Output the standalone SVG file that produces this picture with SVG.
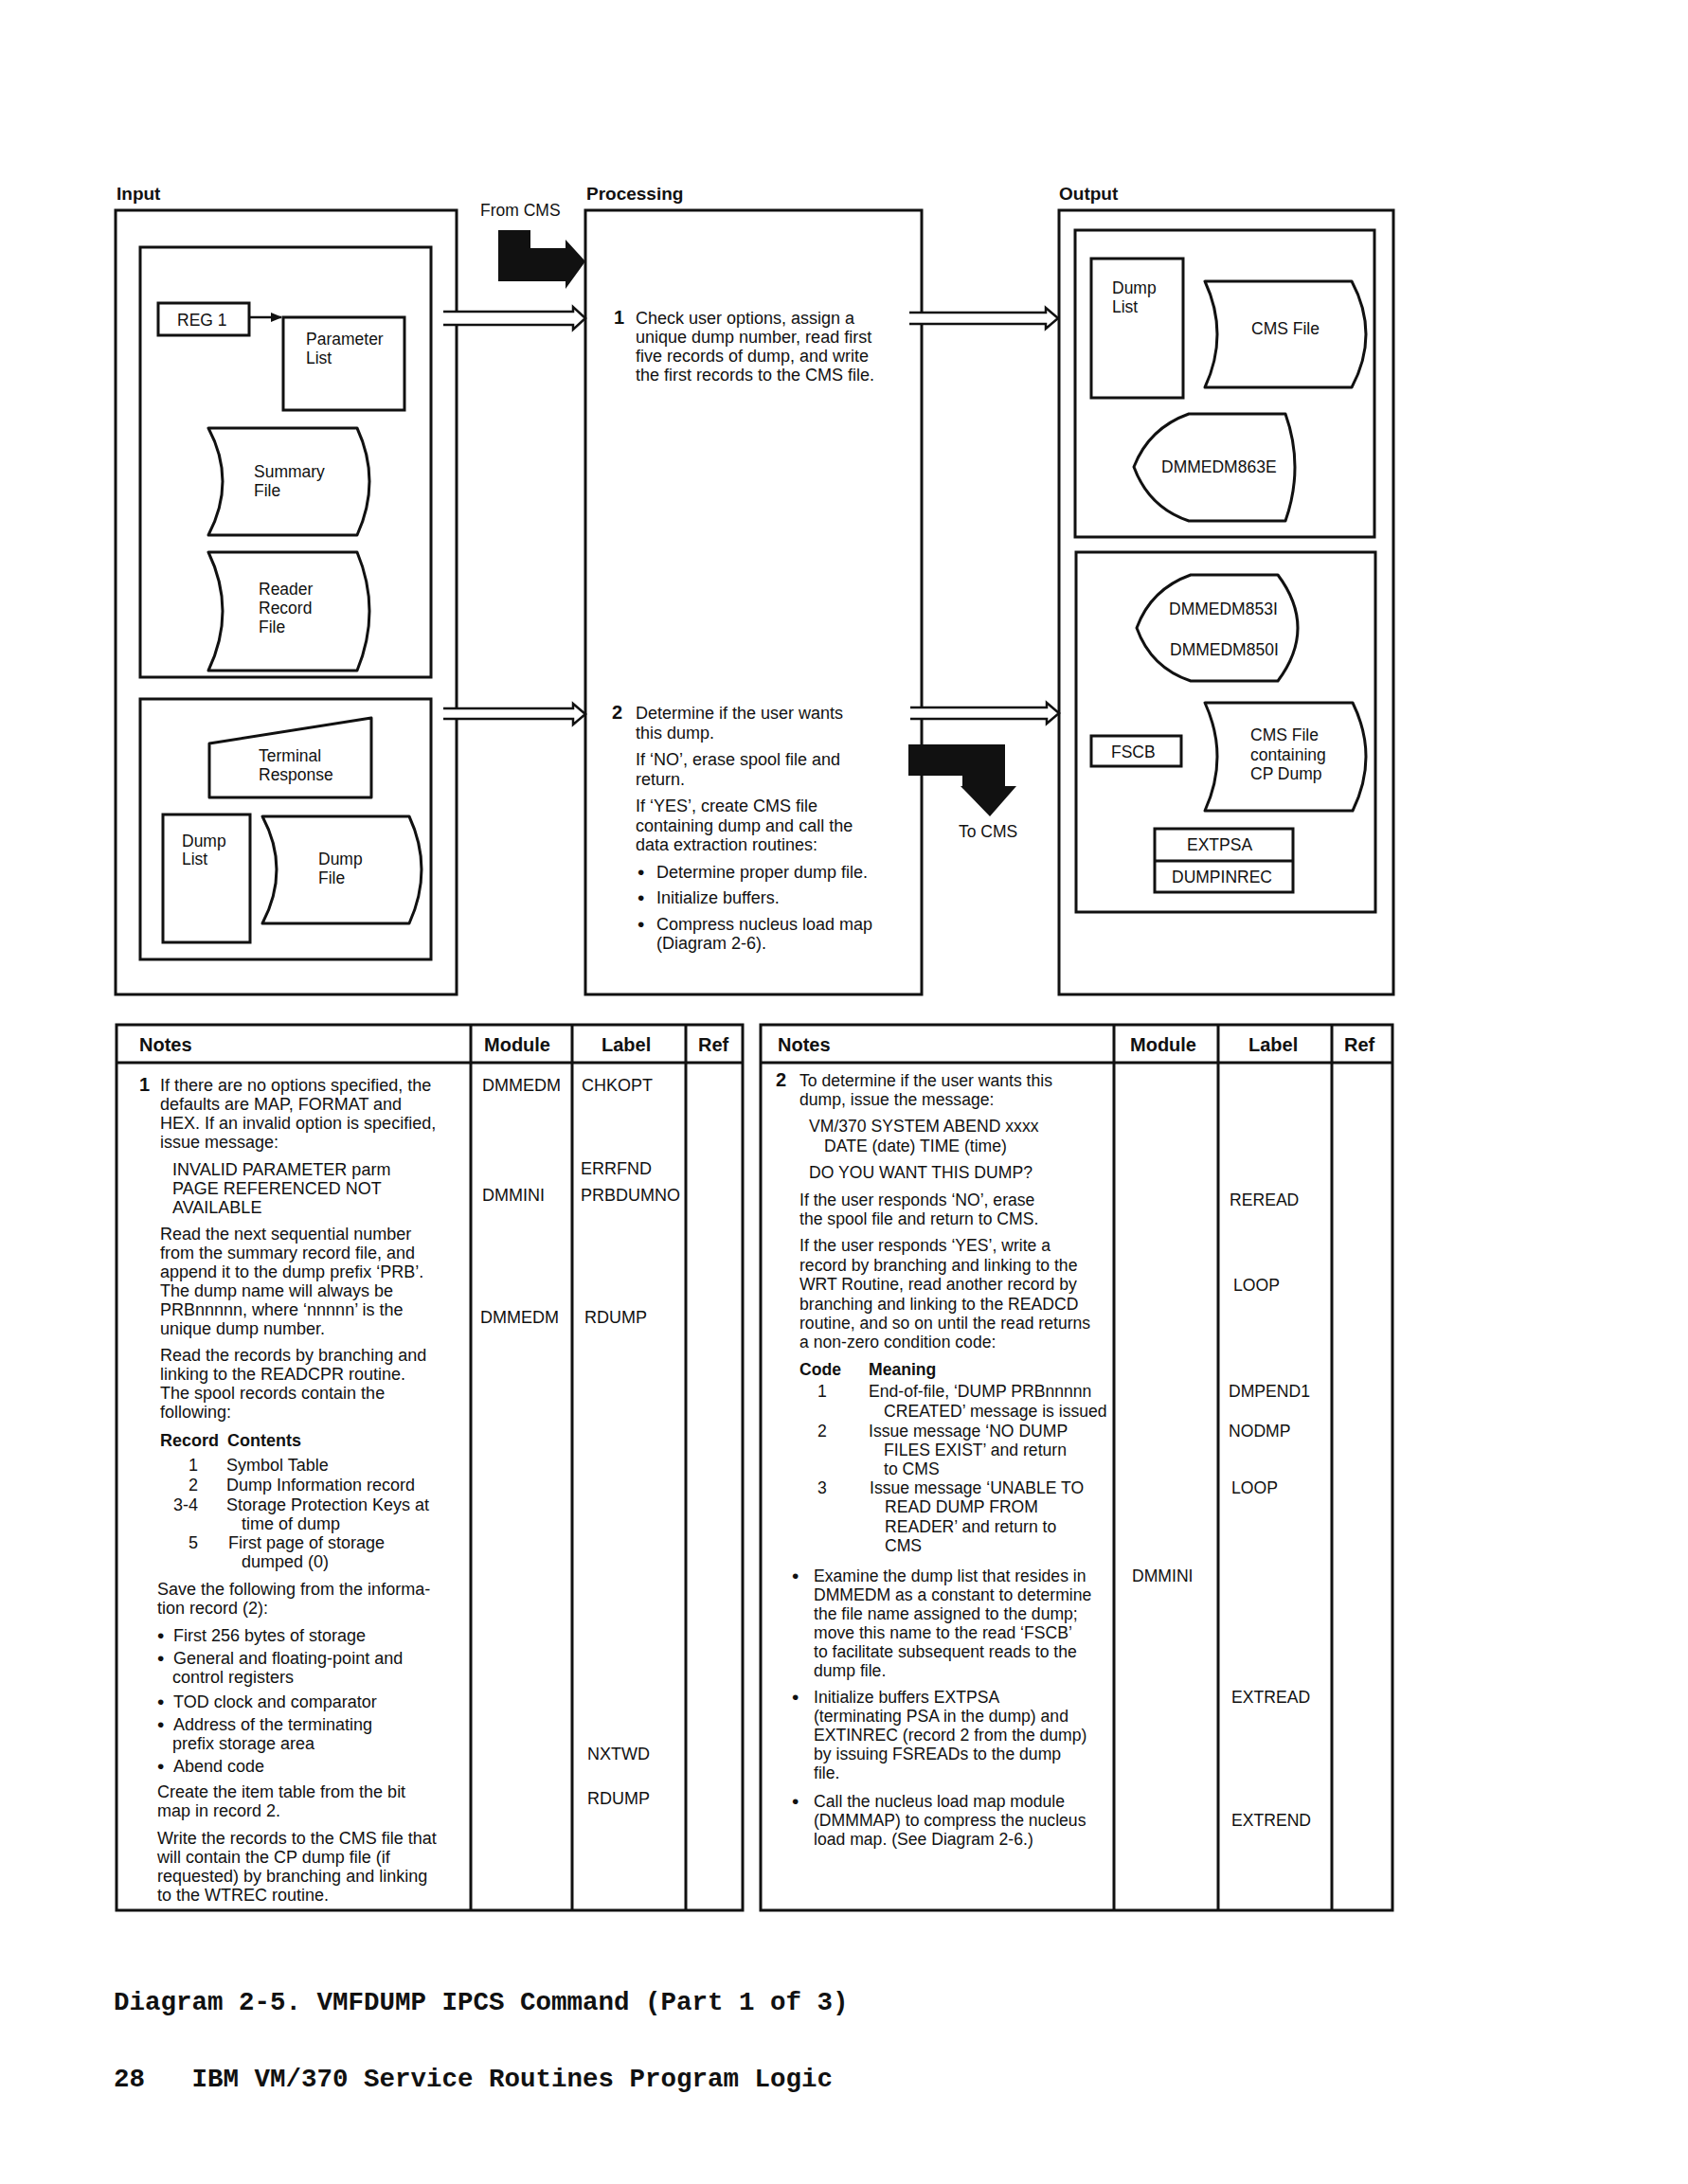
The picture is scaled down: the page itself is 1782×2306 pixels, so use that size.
<svg xmlns="http://www.w3.org/2000/svg" width="1782" height="2306" viewBox="0 0 1782 2306">
<style>
text{font-family:"Liberation Sans",Arial,sans-serif;fill:#111}
.t{font-size:17.5px}
.p{font-size:18px}
.n{font-size:18px}
.r{font-size:17.6px}
.bu{font-size:21px}
.h{font-size:19px;font-weight:bold}
.th{font-size:20px;font-weight:bold}
.num{font-size:20px;font-weight:bold}
.b{font-weight:bold}
.box{fill:none;stroke:#111;stroke-width:3}
.shape{fill:#fff;stroke:#111;stroke-width:3;stroke-linejoin:round}
.dbl{fill:#fff;stroke:#111;stroke-width:2.5;stroke-linejoin:miter}
.blk{fill:#111;stroke:none}
.ln{stroke:#111;stroke-width:3;fill:none}
.foot{font-family:"Liberation Mono","Courier New",monospace;font-size:27.5px;font-weight:bold;fill:#111}
</style>
<defs>
<marker id="ah" markerWidth="12" markerHeight="10" refX="11" refY="5" orient="auto" markerUnits="userSpaceOnUse">
<path d="M0,0 L12,5 L0,10 Z" fill="#111"/>
</marker>
</defs>
<rect width="1782" height="2306" fill="#fff"/>

<!-- section labels -->
<text class="h" x="123" y="211">Input</text>
<text class="h" x="619" y="211">Processing</text>
<text class="h" x="1118" y="211">Output</text>

<!-- Input -->
<g id="input-box">
<rect class="box" x="122" y="222" width="360" height="828"/>
</g>
<g id="input-group1">
<rect class="box" x="148" y="261" width="307" height="454"/>
</g>
<g id="reg1">
<rect class="box" x="167" y="320" width="96" height="34"/>
<text class="t" x="187" y="344">REG 1</text>
</g>
<g id="parameter-list">
<rect class="box" x="299" y="335" width="128" height="98"/>
<text class="t" x="323" y="364">Parameter</text>
<text class="t" x="323" y="384">List</text>
</g>
<g id="summary-file">
<path class="shape" d="M220,452 H377 Q403,508 377,565 H220 Q250,508 220,452 Z"/>
<text class="t" x="268" y="504">Summary</text>
<text class="t" x="268" y="524">File</text>
</g>
<g id="reader-record-file">
<path class="shape" d="M220,583 H377 Q403,645 377,708 H220 Q250,645 220,583 Z"/>
<text class="t" x="273" y="628">Reader</text>
<text class="t" x="273" y="648">Record</text>
<text class="t" x="273" y="668">File</text>
</g>
<g id="input-group2">
<rect class="box" x="148" y="738" width="307" height="275"/>
</g>
<g id="terminal-response">
<path class="shape" d="M221,785 L392,758 L392,842 L221,842 Z"/>
<text class="t" x="273" y="804">Terminal</text>
<text class="t" x="273" y="824">Response</text>
</g>
<g id="dump-list-in">
<rect class="box" x="172" y="860" width="92" height="135"/>
<text class="t" x="192" y="894">Dump</text>
<text class="t" x="192" y="913">List</text>
</g>
<g id="dump-file">
<path class="shape" d="M277,862 H432 Q458,918 432,975 H277 Q307,918 277,862 Z"/>
<text class="t" x="336" y="913">Dump</text>
<text class="t" x="336" y="933">File</text>
</g>

<!-- Processing -->
<g id="processing-box">
<rect class="box" x="618" y="222" width="355" height="828"/>
</g>
<g id="step1">
<text class="num" x="648" y="342">1</text>
<text class="p" x="671" y="342">Check user options, assign a</text>
<text class="p" x="671" y="362">unique dump number, read first</text>
<text class="p" x="671" y="382">five records of dump, and write</text>
<text class="p" x="671" y="402">the first records to the CMS file.</text>
</g>
<g id="step2">
<text class="num" x="646" y="759">2</text>
<text class="p" x="671" y="759">Determine if the user wants</text>
<text class="p" x="671" y="780">this dump.</text>
<text class="p" x="671" y="808">If ‘NO’, erase spool file and</text>
<text class="p" x="671" y="829">return.</text>
<text class="p" x="671" y="857">If ‘YES’, create CMS file</text>
<text class="p" x="671" y="878">containing dump and call the</text>
<text class="p" x="671" y="898">data extraction routines:</text>
<text class="bu" x="673" y="928">•</text><text class="p" x="693" y="927">Determine proper dump file.</text>
<text class="bu" x="673" y="955">•</text><text class="p" x="693" y="954">Initialize buffers.</text>
<text class="bu" x="673" y="983">•</text><text class="p" x="693" y="982">Compress nucleus load map</text>
<text class="p" x="693" y="1002">(Diagram 2-6).</text>
</g>

<!-- Output -->
<g id="output-box">
<rect class="box" x="1118" y="222" width="353" height="828"/>
</g>
<g id="output-group1">
<rect class="box" x="1135" y="243" width="316" height="324"/>
</g>
<g id="dump-list-out">
<rect class="box" x="1152" y="273" width="97" height="147"/>
<text class="t" x="1174" y="310">Dump</text>
<text class="t" x="1174" y="330">List</text>
</g>
<g id="cms-file">
<path class="shape" d="M1272,297 H1427 Q1457,353 1427,409 H1272 Q1298,353 1272,297 Z"/>
<text class="t" x="1321" y="353">CMS File</text>
</g>
<g id="msg-863e">
<path class="shape" d="M1255,437 Q1213,452 1197,493 Q1213,536 1255,550 H1357 Q1377,493 1357,437 Z"/>
<text class="t" x="1226" y="499">DMMEDM863E</text>
</g>
<g id="output-group2">
<rect class="box" x="1136" y="583" width="316" height="380"/>
</g>
<g id="msg-853i-850i">
<path class="shape" d="M1257,607 Q1215,622 1200,663 Q1215,705 1257,719 H1349 Q1391,663 1349,607 Z"/>
<text class="t" x="1234" y="649">DMMEDM853I</text>
<text class="t" x="1235" y="692">DMMEDM850I</text>
</g>
<g id="cms-file-cp-dump">
<path class="shape" d="M1272,742 H1428 Q1456,799 1428,856 H1272 Q1298,799 1272,742 Z"/>
<text class="t" x="1320" y="782">CMS File</text>
<text class="t" x="1320" y="803">containing</text>
<text class="t" x="1320" y="823">CP Dump</text>
</g>
<g id="fscb">
<rect class="box" x="1152" y="777" width="95" height="32"/>
<text class="t" x="1173" y="800">FSCB</text>
</g>
<g id="extpsa-dumpinrec">
<rect class="box" x="1219" y="875" width="146" height="67"/>
<line class="ln" x1="1219" y1="909" x2="1365" y2="909"/>
<text class="t" x="1253" y="898">EXTPSA</text>
<text class="t" x="1237" y="932">DUMPINREC</text>
</g>

<!-- connectors -->
<g id="connectors">
<line x1="263" y1="335" x2="297" y2="335" stroke="#111" stroke-width="2.5" marker-end="url(#ah)"/>
<path class="dbl" d="M468,329 H605 V324 L618,336 L605,348 V343 H468"/>
<path class="dbl" d="M468,748 H605 V743 L618,754 L605,765 V759 H468"/>
<path class="dbl" d="M960,330 H1104 V325 L1117,336 L1104,347 V342 H960"/>
<path class="dbl" d="M961,747 H1105 V742 L1118,753 L1105,764 V759 H961"/>
<path class="blk" d="M526,243 H560 V262 H597 V253 L618,276 L597,305 V297 H526 Z"/>
<text class="t" x="507" y="228">From CMS</text>
<path class="blk" d="M959,786 H1061 V830 H1073 L1045,862 L1014,830 H1016 V819 H959 Z"/>
<text class="t" x="1012" y="884">To CMS</text>
</g>

<!-- Left table -->
<g id="table-left">
<rect class="box" x="123" y="1082" width="661" height="935"/>
<line class="ln" x1="123" y1="1122" x2="784" y2="1122"/>
<line class="ln" x1="497" y1="1082" x2="497" y2="2017"/>
<line class="ln" x1="604" y1="1082" x2="604" y2="2017"/>
<line class="ln" x1="724" y1="1082" x2="724" y2="2017"/>
<text class="th" x="147" y="1110">Notes</text>
<text class="th" x="511" y="1110">Module</text>
<text class="th" x="635" y="1110">Label</text>
<text class="th" x="737" y="1110">Ref</text>
<text class="num" x="147" y="1152">1</text>
<text class="n" x="169" y="1152">If there are no options specified, the</text>
<text class="n" x="169" y="1172">defaults are MAP, FORMAT and</text>
<text class="n" x="169" y="1192">HEX.  If an invalid option is specified,</text>
<text class="n" x="169" y="1212">issue message:</text>
<text class="n" x="182" y="1241">INVALID PARAMETER parm</text>
<text class="n" x="182" y="1261">PAGE REFERENCED NOT</text>
<text class="n" x="182" y="1281">AVAILABLE</text>
<text class="n" x="169" y="1309">Read the next sequential number</text>
<text class="n" x="169" y="1329">from the summary record file, and</text>
<text class="n" x="169" y="1349">append it to the dump prefix ‘PRB’.</text>
<text class="n" x="169" y="1369">The dump name will always be</text>
<text class="n" x="169" y="1389">PRBnnnnn, where ‘nnnnn’ is the</text>
<text class="n" x="169" y="1409">unique dump number.</text>
<text class="n" x="169" y="1437">Read the records by branching and</text>
<text class="n" x="169" y="1457">linking to the READCPR routine.</text>
<text class="n" x="169" y="1477">The spool records contain the</text>
<text class="n" x="169" y="1497">following:</text>
<text class="n b" x="169" y="1527">Record</text>
<text class="n b" x="240" y="1527">Contents</text>
<text class="n" x="199" y="1553">1</text><text class="n" x="239" y="1553">Symbol Table</text>
<text class="n" x="199" y="1574">2</text><text class="n" x="239" y="1574">Dump Information record</text>
<text class="n" x="183" y="1595">3-4</text><text class="n" x="239" y="1595">Storage Protection Keys at</text>
<text class="n" x="255" y="1615">time of dump</text>
<text class="n" x="199" y="1635">5</text><text class="n" x="241" y="1635">First page of storage</text>
<text class="n" x="255" y="1655">dumped (0)</text>
<text class="n" x="166" y="1684">Save the following from the informa-</text>
<text class="n" x="166" y="1704">tion record (2):</text>
<text class="bu" x="166" y="1734">•</text><text class="n" x="183" y="1733">First 256 bytes of storage</text>
<text class="bu" x="166" y="1758">•</text><text class="n" x="183" y="1757">General and floating-point and</text>
<text class="n" x="182" y="1777">control registers</text>
<text class="bu" x="166" y="1804">•</text><text class="n" x="183" y="1803">TOD clock and comparator</text>
<text class="bu" x="166" y="1828">•</text><text class="n" x="183" y="1827">Address of the terminating</text>
<text class="n" x="182" y="1847">prefix storage area</text>
<text class="bu" x="166" y="1872">•</text><text class="n" x="183" y="1871">Abend code</text>
<text class="n" x="166" y="1898">Create the item table from the bit</text>
<text class="n" x="166" y="1918">map in record 2.</text>
<text class="n" x="166" y="1947">Write the records to the CMS file that</text>
<text class="n" x="166" y="1967">will contain the CP dump file (if</text>
<text class="n" x="166" y="1987">requested) by branching and linking</text>
<text class="n" x="166" y="2007">to the WTREC routine.</text>
<text class="n" x="509" y="1152">DMMEDM</text>
<text class="n" x="509" y="1268">DMMINI</text>
<text class="n" x="507" y="1397">DMMEDM</text>
<text class="n" x="614" y="1152">CHKOPT</text>
<text class="n" x="613" y="1240">ERRFND</text>
<text class="n" x="613" y="1268">PRBDUMNO</text>
<text class="n" x="617" y="1397">RDUMP</text>
<text class="n" x="620" y="1858">NXTWD</text>
<text class="n" x="620" y="1905">RDUMP</text>
</g>

<!-- Right table -->
<g id="table-right">
<rect class="box" x="803" y="1082" width="667" height="935"/>
<line class="ln" x1="803" y1="1122" x2="1470" y2="1122"/>
<line class="ln" x1="1176" y1="1082" x2="1176" y2="2017"/>
<line class="ln" x1="1286" y1="1082" x2="1286" y2="2017"/>
<line class="ln" x1="1406" y1="1082" x2="1406" y2="2017"/>
<text class="th" x="821" y="1110">Notes</text>
<text class="th" x="1193" y="1110">Module</text>
<text class="th" x="1318" y="1110">Label</text>
<text class="th" x="1419" y="1110">Ref</text>
<text class="num" x="819" y="1147">2</text>
<text class="r" x="844" y="1147">To determine if the user wants this</text>
<text class="r" x="844" y="1167">dump, issue the message:</text>
<text class="r" x="854" y="1195">VM/370 SYSTEM ABEND xxxx</text>
<text class="r" x="870" y="1216">DATE (date) TIME (time)</text>
<text class="r" x="854" y="1244">DO YOU WANT THIS DUMP?</text>
<text class="r" x="844" y="1273">If the user responds ‘NO’, erase</text>
<text class="r" x="844" y="1293">the spool file and return to CMS.</text>
<text class="r" x="844" y="1321">If the user responds ‘YES’, write a</text>
<text class="r" x="844" y="1342">record by branching and linking to the</text>
<text class="r" x="844" y="1362">WRT Routine, read another record by</text>
<text class="r" x="844" y="1383">branching and linking to the READCD</text>
<text class="r" x="844" y="1403">routine, and so on until the read returns</text>
<text class="r" x="844" y="1423">a non-zero condition code:</text>
<text class="r b" x="844" y="1452">Code</text>
<text class="r b" x="917" y="1452">Meaning</text>
<text class="r" x="863" y="1475">1</text><text class="r" x="917" y="1475">End-of-file, ‘DUMP PRBnnnnn</text>
<text class="r" x="933" y="1496">CREATED’ message is issued</text>
<text class="r" x="863" y="1517">2</text><text class="r" x="917" y="1517">Issue message ‘NO DUMP</text>
<text class="r" x="933" y="1537">FILES EXIST’ and return</text>
<text class="r" x="933" y="1557">to CMS</text>
<text class="r" x="863" y="1577">3</text><text class="r" x="918" y="1577">Issue message ‘UNABLE TO</text>
<text class="r" x="934" y="1597">READ DUMP FROM</text>
<text class="r" x="934" y="1618">READER’ and return to</text>
<text class="r" x="934" y="1638">CMS</text>
<text class="bu" x="836" y="1671">•</text><text class="r" x="859" y="1670">Examine the dump list that resides in</text>
<text class="r" x="859" y="1690">DMMEDM as a constant to determine</text>
<text class="r" x="859" y="1710">the file name assigned to the dump;</text>
<text class="r" x="859" y="1730">move this name to the read ‘FSCB’</text>
<text class="r" x="859" y="1750">to facilitate subsequent reads to the</text>
<text class="r" x="859" y="1770">dump file.</text>
<text class="bu" x="836" y="1799">•</text><text class="r" x="859" y="1798">Initialize buffers EXTPSA</text>
<text class="r" x="859" y="1818">(terminating PSA in the dump) and</text>
<text class="r" x="859" y="1838">EXTINREC (record 2 from the dump)</text>
<text class="r" x="859" y="1858">by issuing FSREADs to the dump</text>
<text class="r" x="859" y="1878">file.</text>
<text class="bu" x="836" y="1909">•</text><text class="r" x="859" y="1908">Call the nucleus load map module</text>
<text class="r" x="859" y="1928">(DMMMAP) to compress the nucleus</text>
<text class="r" x="859" y="1948">load map.  (See Diagram 2-6.)</text>
<text class="r" x="1195" y="1670">DMMINI</text>
<text class="r" x="1298" y="1273">REREAD</text>
<text class="r" x="1302" y="1363">LOOP</text>
<text class="r" x="1297" y="1475">DMPEND1</text>
<text class="r" x="1297" y="1517">NODMP</text>
<text class="r" x="1300" y="1577">LOOP</text>
<text class="r" x="1300" y="1798">EXTREAD</text>
<text class="r" x="1300" y="1928">EXTREND</text>
</g>

<!-- footer -->
<text class="foot" x="120" y="2122" xml:space="preserve">Diagram 2-5. VMFDUMP IPCS Command (Part 1 of 3)</text>
<text class="foot" x="120" y="2203" xml:space="preserve">28   IBM VM/370 Service Routines Program Logic</text>
</svg>
